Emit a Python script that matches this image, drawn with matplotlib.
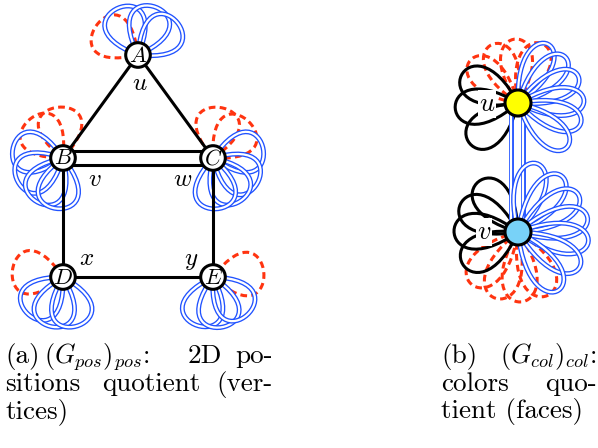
import numpy as np
import matplotlib
matplotlib.use("Agg")
import matplotlib.pyplot as plt
from matplotlib.path import Path
from matplotlib.patches import PathPatch, Circle

plt.rcParams['mathtext.fontset'] = 'cm'

# ---------------- data ----------------
# left panel: vertices of the 2D-positions quotient
nodes_a = ["A", "B", "C", "D", "E"]
node_pos_a = {"A": (138, 55), "B": (63, 158), "C": (213, 158), "D": (63, 277), "E": (213, 277)}
edges_a = [("A", "B"), ("A", "C"), ("B", "D"), ("C", "E"), ("D", "E")]
double_edges_a = [("B", "C")]
# loop directions (degrees) per node
red_loops_a = {"A": [145], "B": [95, 132], "C": [82, 45], "D": [172], "E": [5]}
blue_loops_a = {"A": [113, 70, 40], "B": [170, 207, 238, 262], "C": [10, -30, -58, -86],
                "D": [226, 255, 285], "E": [252, 280, 312]}
edge_labels_a = ["u", "v", "w", "x", "y"]
edge_label_pos_a = [(140, 83), (95, 179), (183, 179), (87, 258), (191, 260)]

# right panel: faces of the colors quotient
nodes_b = ["u", "v"]
node_pos_b = {"u": (518, 103), "v": (518, 232)}
node_color_b = {"u": "#ffff00", "v": "#78d2f8"}
black_loops_b = {"u": [154, 185, 220], "v": [128, 154, 179, 210]}
red_loops_b = {"u": [138, 114, 92, 68], "v": [228, 251, 272, 295]}
blue_loops_b = {"u": [63, 44, 24, 2, -18, -42], "v": [75, 52, 32, 12, -8, -30, -55]}
blue_edges_b = 2

captions = {
    "a": [["(a)", r"$(G_{pos})_{pos}$:", "2D", "po-"],
          ["sitions", "quotient", "(ver-"],
          ["tices)"]],
    "b": [["(b)", r"$(G_{col})_{col}$:"],
          ["colors", "quo-"],
          ["tient (faces)"]],
}

# ---------------- drawing ----------------
BLUE = "#2052ff"
RED = "#ff3410"

fig = plt.figure(figsize=(5.98, 4.48), dpi=100)
ax = fig.add_axes([0, 0, 1, 1])
ax.set_xlim(0, 598)
ax.set_ylim(448, 0)
ax.axis("off")


def petal_path(c, ang, far, spread=40):
    a = np.radians(ang)
    s = np.radians(spread)
    L = far / (0.75 * np.cos(s))
    cx, cy = c
    p1 = (cx + L * np.cos(a - s), cy - L * np.sin(a - s))
    p2 = (cx + L * np.cos(a + s), cy - L * np.sin(a + s))
    return Path([c, p1, p2, c], [Path.MOVETO, Path.CURVE4, Path.CURVE4, Path.CURVE4])


def draw_blue(c, ang, far, spread=40, z=2):
    p = petal_path(c, ang, far, spread)
    ax.add_patch(PathPatch(p, fill=False, ec=BLUE, lw=3.5, zorder=z))
    ax.add_patch(PathPatch(p, fill=False, ec="white", lw=1.6, zorder=z + 0.01))


def draw_red(c, ang, far, spread=40, z=1.5):
    p = petal_path(c, ang, far, spread)
    ax.add_patch(PathPatch(p, fill=False, ec=RED, lw=2.2, ls=(0, (2.2, 1.4)), zorder=z))


def draw_black(c, ang, far, spread=38, z=1.8):
    p = petal_path(c, ang, far, spread)
    ax.add_patch(PathPatch(p, fill=False, ec="black", lw=2.2, zorder=z))


# left panel
for n in nodes_a:
    c = node_pos_a[n]
    for ang in red_loops_a[n]:
        draw_red(c, ang, 51, spread=48)
    for i, ang in enumerate(blue_loops_a[n]):
        draw_blue(c, ang, 51, spread=46, z=2 + i * 0.02)

for a_, b_ in edges_a:
    (x1, y1), (x2, y2) = node_pos_a[a_], node_pos_a[b_]
    ax.plot([x1, x2], [y1, y2], color="black", lw=2.2, zorder=3, solid_capstyle="butt")
for a_, b_ in double_edges_a:
    (x1, y1), (x2, y2) = node_pos_a[a_], node_pos_a[b_]
    for off in (-7, 7):
        ax.plot([x1, x2], [y1 + off, y2 + off], color="black", lw=2.2, zorder=3)

for n in nodes_a:
    c = node_pos_a[n]
    ax.add_patch(Circle(c, 12.3, fc="white", ec="black", lw=2.2, zorder=5))
    ax.text(c[0], c[1] + 0.5, f"${n}$", ha="center", va="center", fontsize=16, zorder=6)

for lab, (x, y) in zip(edge_labels_a, edge_label_pos_a):
    ax.text(x, y, f"${lab}$", ha="center", va="center", fontsize=18, zorder=6)

# right panel
(ux, uy), (vx, vy) = node_pos_b["u"], node_pos_b["v"]
for k in range(blue_edges_b):
    x = ux - 7 + 12 * k
    ax.plot([x, x], [uy, vy], color=BLUE, lw=3.5, zorder=2)
    ax.plot([x, x], [uy, vy], color="white", lw=1.6, zorder=2.01)

far_b = {"u": (64, 63, 66), "v": (70, 64, 71)}
for n in nodes_b:
    c = node_pos_b[n]
    fr, fk, fb = far_b[n]
    for ang in red_loops_b[n]:
        draw_red(c, ang, fr, spread=33)
    for ang in black_loops_b[n]:
        draw_black(c, ang, fk, spread=36)
    for i, ang in enumerate(blue_loops_b[n]):
        draw_blue(c, ang, fb, spread=29, z=2.1 + i * 0.02)
    ax.add_patch(Circle(c, 13, fc=node_color_b[n], ec="black", lw=2.2, zorder=5))

ax.text(487, 104, "$u$", ha="center", va="center", fontsize=19, zorder=4,
        bbox=dict(fc="white", ec="none", pad=0.3))
ax.text(484, 232, "$v$", ha="center", va="center", fontsize=19, zorder=4,
        bbox=dict(fc="white", ec="none", pad=0.3))

# captions (justified by hand)
cap_fs = 19.5
math_fs = 18.8
cap_layout = {"a": [[(5, "left"), (44, "left"), (188, "left"), (273, "right")],
                    [(5, "left"), (102, "left"), (273, "right")],
                    [(5, "left")]],
              "b": [[(441, "left"), (597, "right")],
                    [(441, "left"), (597, "right")],
                    [(441, "left")]]}
base_y = [363, 391, 418]
for key in ("a", "b"):
    for li, words in enumerate(captions[key]):
        for wi, w in enumerate(words):
            x, ha = cap_layout[key][li][wi]
            fs = math_fs if w.startswith("$") else cap_fs
            ax.text(x, base_y[li], w, ha=ha, va="baseline",
                    fontsize=fs, family="cmr10")

fig.savefig("out.png", dpi=100)
